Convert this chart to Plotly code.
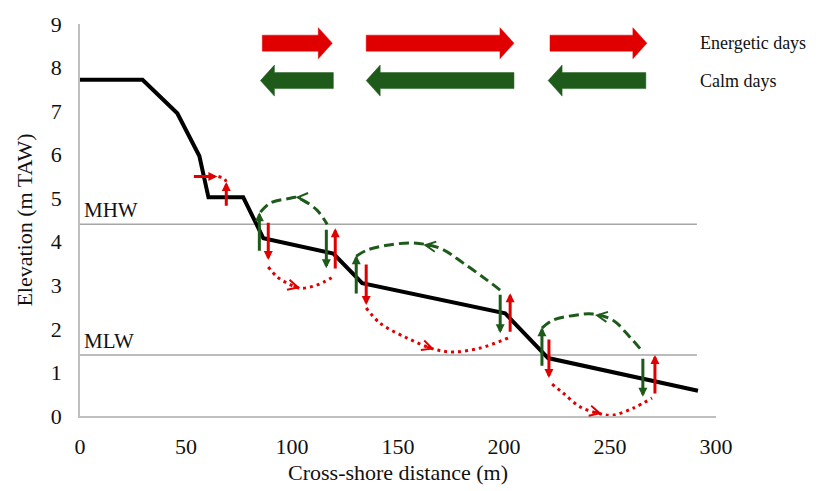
import plotly.graph_objects as go

# ---------------- data ----------------
profile_x = [0, 29.5, 45.9, 56.3, 60.6, 77.0, 86.5, 119.5, 133.1, 200.5, 220.8, 291.5]
profile_y = [7.72, 7.72, 6.95, 5.97, 5.02, 5.02, 4.08, 3.73, 3.05, 2.36, 1.33, 0.58]

x_ticks = [0, 50, 100, 150, 200, 250, 300]
y_ticks = [0, 1, 2, 3, 4, 5, 6, 7, 8, 9]

mhw_level = 4.40
mlw_level = 1.40
level_line_x = [0, 291]

# calm-day (onshore) dashed loops
green_loop1_x = [85.1, 89.8, 99.2, 101.6, 105.3, 111.9, 116.6]
green_loop1_y = [4.68, 4.89, 5.00, 5.02, 4.95, 4.72, 4.40]
green_loop2_x = [130.3, 135.5, 144.9, 157.2, 169.9, 180.8, 192.0, 198.2]
green_loop2_y = [3.67, 3.81, 3.92, 3.97, 3.85, 3.51, 3.12, 2.89]
green_loop3_x = [217.9, 223.1, 234.4, 242.0, 251.4, 259.4, 265.5]
green_loop3_y = [2.02, 2.20, 2.32, 2.34, 2.20, 1.81, 1.47]

# energetic-day (offshore) dotted loops
red_loop0_x = [65.3, 68.2, 69.1]
red_loop0_y = [5.50, 5.44, 5.36]
red_loop1_x = [88.8, 93.1, 97.8, 103.0, 108.6, 114.8, 120.4]
red_loop1_y = [3.42, 3.19, 3.05, 2.94, 2.96, 3.07, 3.23]
red_loop2_x = [135.0, 141.6, 154.3, 166.6, 176.0, 188.7, 201.9]
red_loop2_y = [2.48, 2.13, 1.79, 1.54, 1.47, 1.56, 1.79]
red_loop3_x = [222.7, 227.8, 235.9, 245.3, 251.4, 260.9, 269.8]
red_loop3_y = [0.73, 0.53, 0.21, 0.05, 0.02, 0.18, 0.41]

# straight arrows: (x_tail, y_tail, x_tip, y_tip)
green_arrows = [
    (84.6, 3.76, 84.6, 4.68),
    (116.2, 4.31, 116.2, 3.39),
    (130.3, 2.78, 130.3, 3.69),
    (198.2, 2.82, 198.2, 1.90),
    (217.9, 1.12, 217.9, 2.04),
    (265.5, 1.35, 265.5, 0.44),
]
red_arrows = [
    (53.0, 5.50, 64.8, 5.50),
    (69.0, 4.79, 69.0, 5.37),
    (88.8, 4.47, 88.8, 3.58),
    (120.4, 3.35, 120.4, 4.31),
    (135.0, 3.51, 135.0, 2.55),
    (202.9, 1.90, 202.9, 2.82),
    (221.2, 1.79, 221.2, 0.87),
    (271.2, 0.48, 271.2, 1.40),
]
# chevron heads on loops: (x_tail, y_tail, x_tip, y_tip)
green_chevrons = [
    (105.0, 5.01, 101.6, 5.02),
    (166.0, 3.90, 161.9, 3.93),
    (246.8, 2.29, 242.9, 2.32),
]
red_chevrons = [
    (100.0, 2.99, 103.9, 2.94),
    (163.0, 1.60, 167.1, 1.53),
    (242.2, 0.10, 246.2, 0.05),
]

# block legend arrows: (x_start, x_end); energetic point right, calm point left
energetic_arrows = [(86.0, 119.0), (135.0, 204.7), (221.7, 267.4)]
calm_arrows = [(85.1, 119.5), (135.0, 204.7), (220.8, 266.9)]
energetic_y = 8.56
calm_y = 7.70
legend_text_x = 291.5

RED = "#e00000"
GREEN = "#1e5a1a"
GRAY = "#a6a6a6"
TXT = "#111111"
FONT = "Liberation Serif"

# layout geometry (page has an 8px body margin)
L, T, PW, PH = 71.5, 16, 636.5, 392
FIG_W, FIG_H = 811, 483
PX_PER_X = PW / 300.0
PX_PER_Y = PH / 9.0

fig = go.Figure()

for lvl in (mhw_level, mlw_level):
    fig.add_trace(go.Scatter(x=level_line_x, y=[lvl, lvl], mode="lines",
                             line=dict(color=GRAY, width=1.5), hoverinfo="skip"))

for lx, ly in [(green_loop1_x, green_loop1_y), (green_loop2_x, green_loop2_y),
               (green_loop3_x, green_loop3_y)]:
    fig.add_trace(go.Scatter(x=lx, y=ly, mode="lines",
                             line=dict(color=GREEN, width=3, dash="10px,5px",
                                       shape="spline", smoothing=1)))
for lx, ly in [(red_loop0_x, red_loop0_y), (red_loop1_x, red_loop1_y),
               (red_loop2_x, red_loop2_y), (red_loop3_x, red_loop3_y)]:
    fig.add_trace(go.Scatter(x=lx, y=ly, mode="lines",
                             line=dict(color=RED, width=3, dash="3px,4px",
                                       shape="spline", smoothing=1)))

fig.add_trace(go.Scatter(x=profile_x, y=profile_y, mode="lines",
                         line=dict(color="black", width=4)))


def block_arrow(x0, x1, yc, color, direction):
    hs = 8.0 / PX_PER_Y
    hh = 15.5 / PX_PER_Y
    hl = 14.0 / PX_PER_X
    if direction == "right":
        tail, tip = x0, x1
        base = tip - hl
    else:
        tail, tip = x1, x0
        base = tip + hl
    xs = [tail, base, base, tip, base, base, tail, tail]
    ys = [yc - hs, yc - hs, yc - hh, yc, yc + hh, yc + hs, yc + hs, yc - hs]
    fig.add_trace(go.Scatter(x=xs, y=ys, mode="lines", fill="toself",
                             fillcolor=color, line=dict(color=color, width=0.5)))


for a, b in energetic_arrows:
    block_arrow(a, b, energetic_y, RED, "right")
for a, b in calm_arrows:
    block_arrow(a, b, calm_y, GREEN, "left")

annotations = []
for (xt, yt, xh, yh), col in [(a, GREEN) for a in green_arrows] + [(a, RED) for a in red_arrows]:
    annotations.append(dict(x=xh, y=yh, ax=xt, ay=yt, xref="x", yref="y",
                            axref="x", ayref="y", text="", showarrow=True,
                            arrowhead=2, arrowsize=0.6, arrowwidth=3,
                            arrowcolor=col, standoff=0, startstandoff=0))
for (xt, yt, xh, yh), col in [(a, GREEN) for a in green_chevrons] + [(a, RED) for a in red_chevrons]:
    annotations.append(dict(x=xh, y=yh, ax=xt, ay=yt, xref="x", yref="y",
                            axref="x", ayref="y", text="", showarrow=True,
                            arrowhead=5, arrowsize=0.8, arrowwidth=2.5,
                            arrowcolor=col, standoff=0, startstandoff=0))

annotations += [
    dict(x=legend_text_x, y=energetic_y, xref="x", yref="y", text="Energetic days",
         showarrow=False, xanchor="left", yanchor="middle",
         font=dict(family=FONT, size=18, color=TXT)),
    dict(x=legend_text_x, y=calm_y, xref="x", yref="y", text="Calm days",
         showarrow=False, xanchor="left", yanchor="middle",
         font=dict(family=FONT, size=18, color=TXT)),
    dict(x=0.8, y=mhw_level, xref="x", yref="y", text="MHW",
         showarrow=False, xanchor="left", yanchor="bottom",
         font=dict(family=FONT, size=21, color=TXT)),
    dict(x=0.8, y=mlw_level, xref="x", yref="y", text="MLW",
         showarrow=False, xanchor="left", yanchor="bottom",
         font=dict(family=FONT, size=21, color=TXT)),
]

fig.update_layout(
    width=FIG_W, height=FIG_H,
    margin=dict(l=L, r=FIG_W - L - PW, t=T, b=FIG_H - T - PH, autoexpand=False),
    paper_bgcolor="white", plot_bgcolor="white",
    showlegend=False,
    annotations=annotations,
    font=dict(family=FONT, size=22, color=TXT),
    xaxis=dict(range=[0, 300], tickvals=x_ticks, showgrid=False, zeroline=False,
               showline=True, linecolor="#bfbfbf", linewidth=1.5,
               ticks="", ticklabelstandoff=10, automargin=False,
               tickfont=dict(family=FONT, size=22, color=TXT),
               title=dict(text="Cross-shore distance (m)", standoff=6,
                          font=dict(family=FONT, size=22, color=TXT))),
    yaxis=dict(range=[0, 9], tickvals=y_ticks, showgrid=False, zeroline=False,
               showline=True, linecolor="#bfbfbf", linewidth=1.5,
               ticks="", ticklabelstandoff=12, automargin=False,
               tickfont=dict(family=FONT, size=22, color=TXT),
               title=dict(text="Elevation (m TAW)", standoff=12,
                          font=dict(family=FONT, size=22, color=TXT))),
)

fig.write_html("out.html")
